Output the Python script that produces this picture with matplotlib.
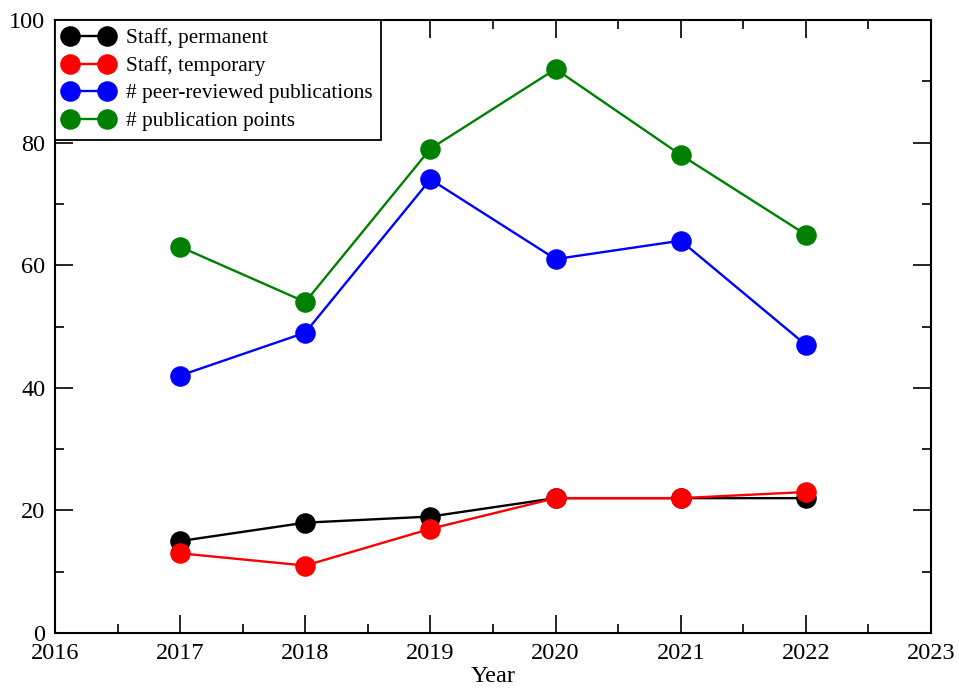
import matplotlib
matplotlib.use("Agg")
import matplotlib.pyplot as plt
from matplotlib.ticker import MultipleLocator

years = [2017, 2018, 2019, 2020, 2021, 2022]
staff_permanent = [15, 18, 19, 22, 22, 22]
staff_temporary = [13, 11, 17, 22, 22, 23]
peer_reviewed = [42, 49, 74, 61, 64, 47]
pub_points = [63, 54, 79, 92, 78, 65]

plt.rcParams['font.family'] = ['Liberation Serif', 'DejaVu Serif']

fig = plt.figure(figsize=(9.59, 6.88), dpi=100)
ax = fig.add_axes([55 / 959, 1 - 633 / 688, 876 / 959, 613 / 688])

series = [
    (staff_permanent, 'black', 'Staff, permanent'),
    (staff_temporary, 'red', 'Staff, temporary'),
    (peer_reviewed, 'blue', '# peer-reviewed publications'),
    (pub_points, 'green', '# publication points'),
]
for vals, col, lab in series:
    ax.plot(years, vals, color=col, lw=1.7, marker='o', ms=13.8,
            markerfacecolor=col, markeredgecolor=col, label=lab)

ax.set_xlim(2016, 2023)
ax.set_ylim(0, 100)
ax.xaxis.set_major_locator(MultipleLocator(1))
ax.xaxis.set_minor_locator(MultipleLocator(0.5))
ax.yaxis.set_major_locator(MultipleLocator(20))
ax.yaxis.set_minor_locator(MultipleLocator(10))
ax.tick_params(which='both', direction='in', top=True, right=True, width=1.2)
ax.tick_params(which='major', length=13, labelsize=17.5, pad=7)
ax.tick_params(which='minor', length=6.5)
for s in ax.spines.values():
    s.set_linewidth(1.5)

ax.set_xlabel('Year', fontsize=17.5, labelpad=1.5)

leg = ax.legend(loc='upper left', numpoints=2, fontsize=15.3,
                fancybox=False, framealpha=1, edgecolor='black',
                handlelength=2.35, handletextpad=0.6, labelspacing=0.36,
                borderpad=0.4, borderaxespad=0)
leg.get_frame().set_linewidth(1.3)

fig.savefig('out.png', dpi=100)
